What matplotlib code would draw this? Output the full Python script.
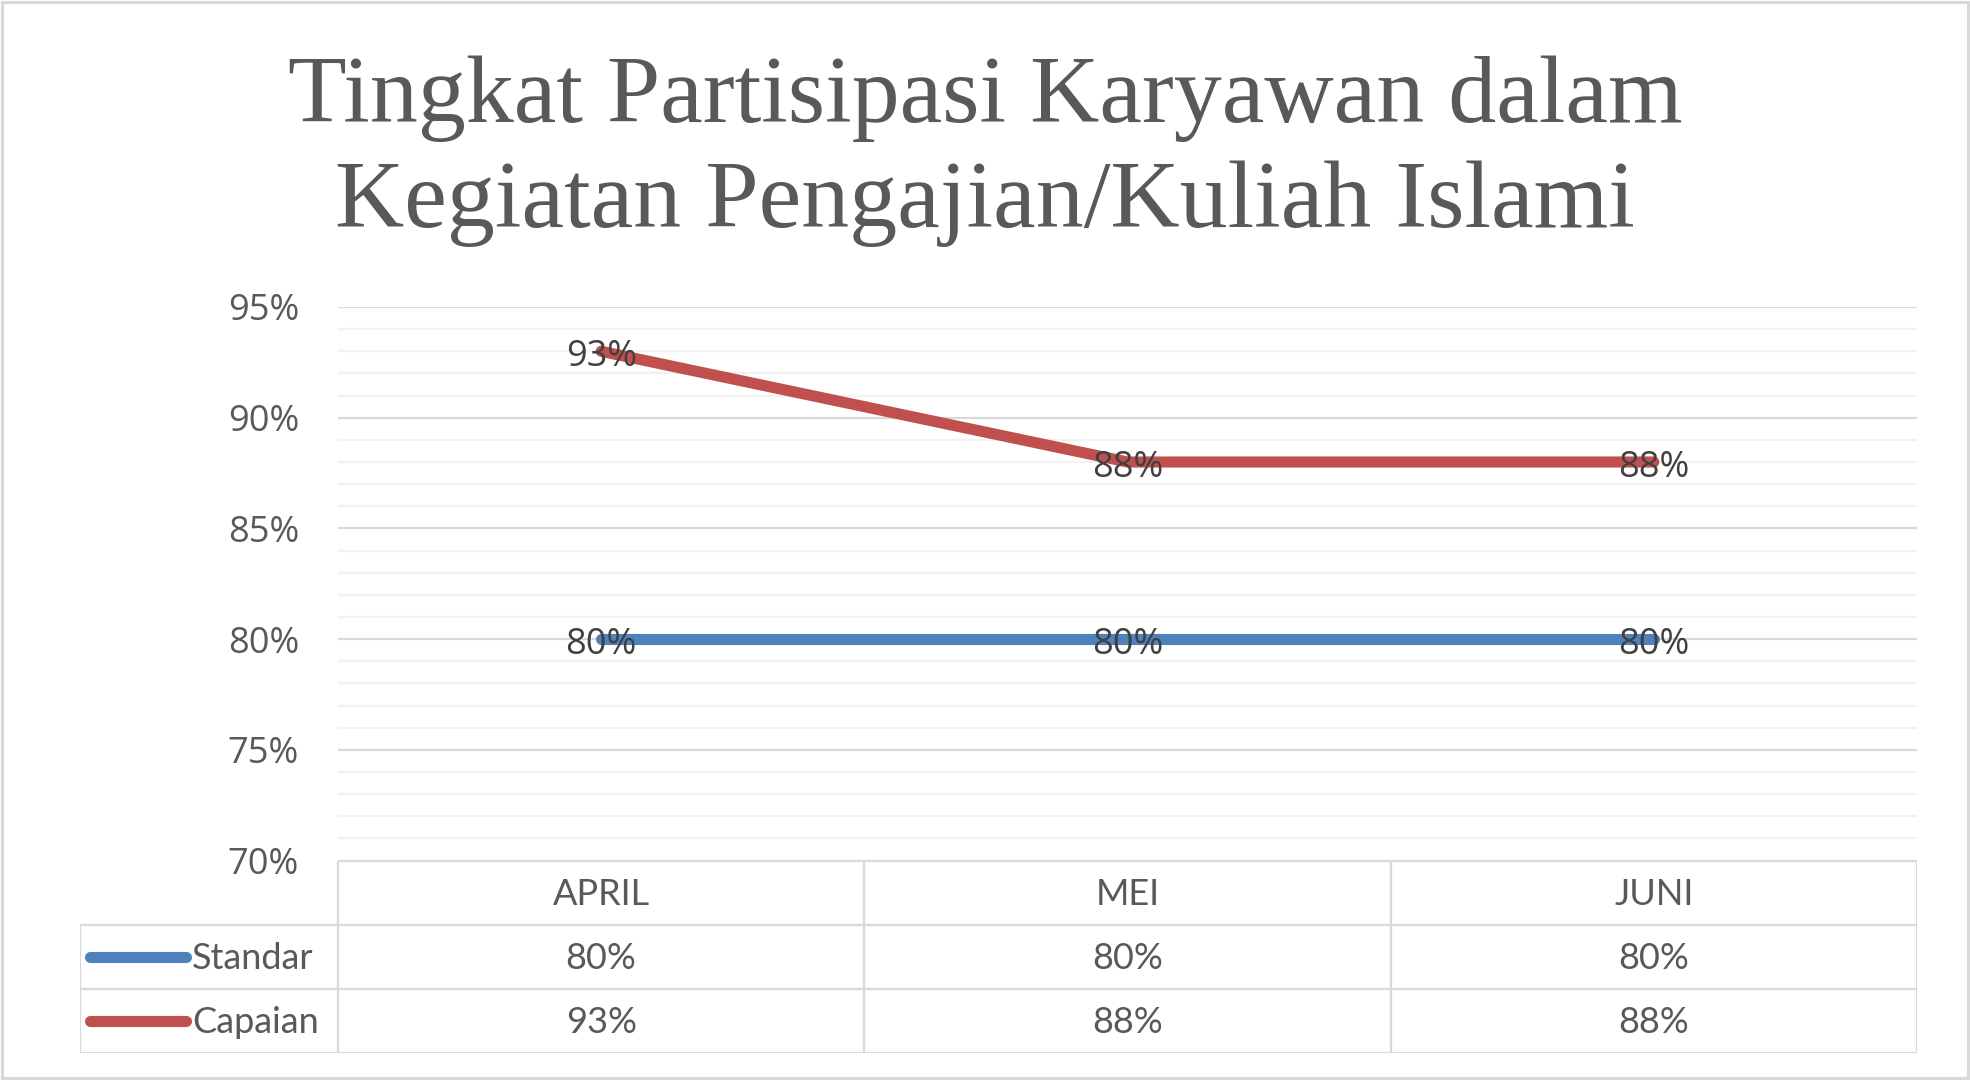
import matplotlib
matplotlib.use("Agg")
import matplotlib.pyplot as plt
from matplotlib.ticker import MultipleLocator, PercentFormatter
from matplotlib.patches import Rectangle

# Data
BULAN = ["APRIL", "MEI", "JUNI"]
STANDAR = [0.80, 0.80, 0.80]
CAPAIAN = [0.93, 0.88, 0.88]
SERIES_NAMES = ["Standar", "Capaian"]
SERIES_COLORS = ["#4F81BD", "#C0504D"]
TITLE = "Tingkat Partisipasi Karyawan dalam\nKegiatan Pengajian/Kuliah Islami"

W, H = 1970, 1080
fig = plt.figure(figsize=(W / 100, H / 100), dpi=100)
fig.patch.set_facecolor("white")

# Outer chart frame
fig.add_artist(Rectangle((2 / W, 2 / H), 1 - 4 / W, 1 - 4 / H, transform=fig.transFigure,
                         fill=False, edgecolor="#d9d9d9", linewidth=2.2))

# Title
fig.text(0.5, 1 - 56 / H, TITLE, ha="center", va="top", fontsize=69,
         family="Liberation Serif", color="#595959", linespacing=1.27)

# Plot area
left, right, top, bottom = 338, 1917, 307, 860.6
ax = fig.add_axes([left / W, 1 - bottom / H, (right - left) / W, (bottom - top) / H])
x = list(range(len(BULAN)))
ax.set_xlim(-0.5, len(BULAN) - 0.5)
ax.set_ylim(0.70, 0.95)
ax.yaxis.set_major_locator(MultipleLocator(0.05))
ax.yaxis.set_minor_locator(MultipleLocator(0.01))
ax.yaxis.set_major_formatter(PercentFormatter(1.0, decimals=0))
ax.grid(axis="y", which="major", color="#d9d9d9", linewidth=1.6, zorder=0)
ax.grid(axis="y", which="minor", color="#f2f2f2", linewidth=1.6, zorder=0)
ax.set_xticks([])
ax.tick_params(axis="y", which="both", length=0, pad=28, labelsize=26, labelcolor="#595959")
for lab in ax.get_yticklabels():
    lab.set_family("Open Sans")
for s in ax.spines.values():
    s.set_visible(False)

for vals, color in zip([STANDAR, CAPAIAN], SERIES_COLORS):
    ax.plot(x, vals, color=color, linewidth=8, solid_capstyle="round", zorder=3)
    for xi, v in zip(x, vals):
        ax.annotate(f"{v:.0%}", (xi, v), xytext=(0, -4), textcoords="offset points",
                    ha="center", va="center", fontsize=26, family="Open Sans",
                    color="#404040", zorder=4)

# Data table below the plot
tleft, tbottom = 80, 1053
tax = fig.add_axes([tleft / W, 1 - tbottom / H, (right - tleft) / W, (tbottom - bottom) / H])
unit = (right - left) / len(BULAN)
x0 = -0.5 - (left - tleft) / unit
tax.set_xlim(x0, len(BULAN) - 0.5)
tax.set_ylim(0, 3)
tax.axis("off")
border = dict(color="#d9d9d9", linewidth=1.6, solid_capstyle="butt")
for xb in [i - 0.5 for i in range(len(BULAN) + 1)]:
    tax.plot([xb, xb], [0, 3], **border)
tax.plot([x0, x0], [0, 2], **border)
for yb in [0, 1, 2]:
    tax.plot([x0, len(BULAN) - 0.5], [yb, yb], **border)
tax.plot([-0.5, len(BULAN) - 0.5], [3, 3], **border)

tfont = dict(fontsize=26, family="Lato", color="#595959", ha="center", va="center")
for i, b in enumerate(BULAN):
    tax.text(i, 2.47, b, **tfont)
key_a = x0 + 10 / unit
key_b = x0 + 106 / unit
for r, (name, vals, color) in enumerate(zip(SERIES_NAMES, [STANDAR, CAPAIAN], SERIES_COLORS)):
    yc = 1.5 - r
    tax.plot([key_a, key_b], [yc, yc], color=color, linewidth=8, solid_capstyle="round")
    tax.text(x0 + 112 / unit, yc - 0.03, name, fontsize=26, family="Lato", color="#595959",
             ha="left", va="center")
    for i, v in enumerate(vals):
        tax.text(i, yc - 0.03, f"{v:.0%}", **tfont)

fig.savefig("out.png", dpi=100, facecolor="white")
